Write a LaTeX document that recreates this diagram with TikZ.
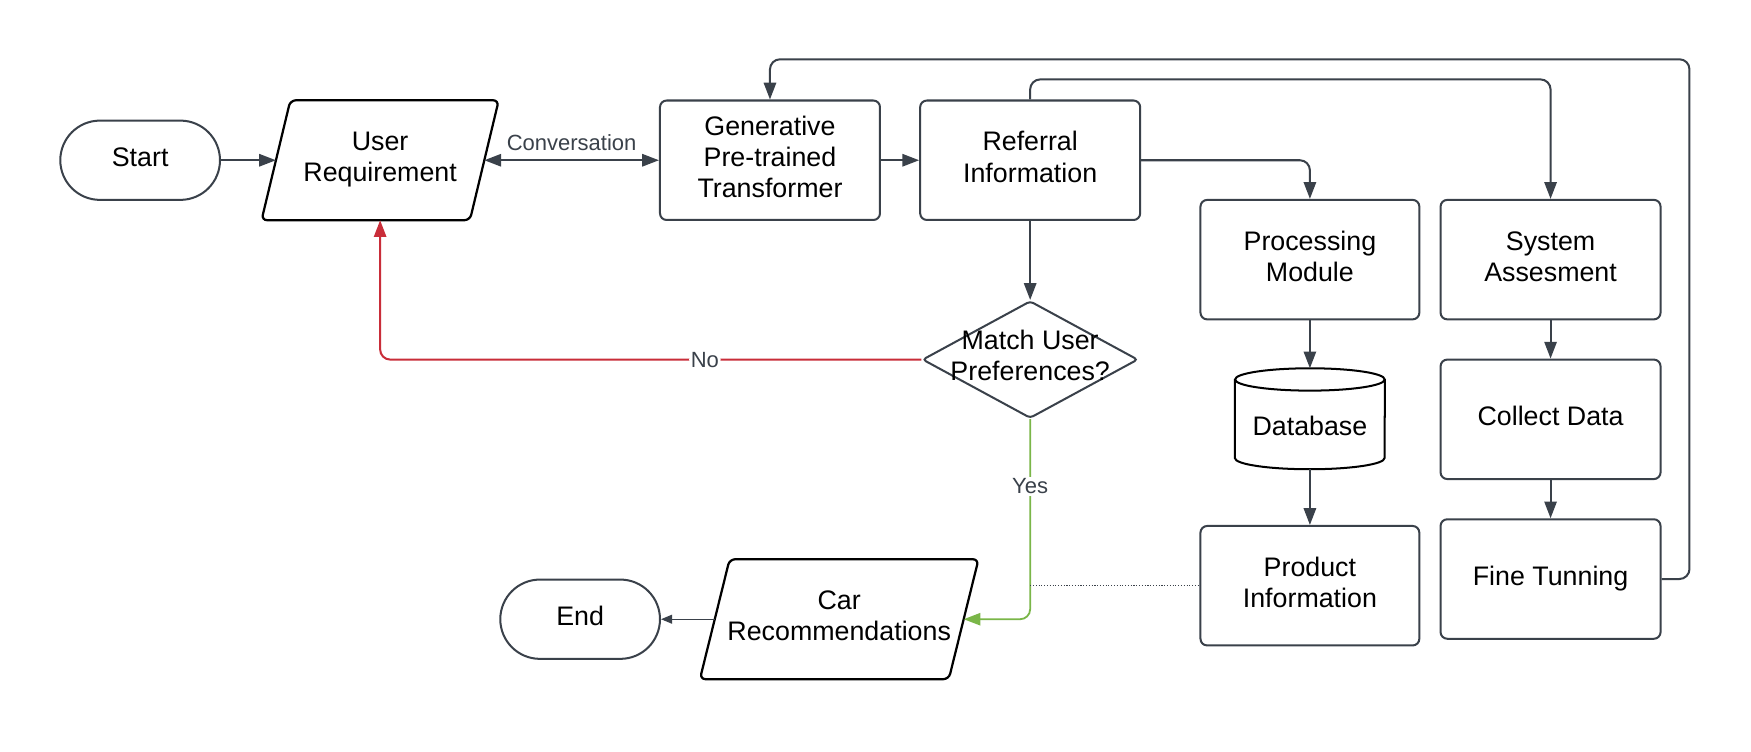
\documentclass[tikz,border=0pt]{standalone}
\usepackage{fontspec}
\setmainfont{Liberation Sans}
\usetikzlibrary{arrows.meta,shapes.geometric,calc}
\definecolor{lc}{HTML}{3A414A}
\definecolor{lred}{HTML}{C92D39}
\definecolor{lgreen}{HTML}{7AB648}
\tikzset{ltip/.tip={Triangle[length=15pt,width=11pt]}, stip/.tip={Triangle[length=10pt,width=8pt]}}
\begin{document}
\begin{tikzpicture}[x=1pt,y=1pt,
  txt/.style={font=\fontsize{24}{28}\selectfont, align=center, text=black},
  box/.style={txt, text depth=6pt, draw=lc, line width=1.8pt, rounded corners=6pt, minimum width=197pt, minimum height=107pt, inner sep=2pt},
  term/.style={txt, text depth=6pt, draw=lc, line width=1.8pt, rounded corners=35.5pt, minimum width=143pt, minimum height=71pt},
  io/.style={txt, text depth=6pt, minimum height=107pt, inner sep=1pt},
  iol/.style={draw=black, line width=2pt, rounded corners=5pt},
  conn/.style={draw=lc, line width=1.8pt, -ltip, rounded corners=9pt},
  lbl/.style={font=\fontsize{19.7}{23}\selectfont, text=lc, fill=white, inner sep=1.5pt},
  dbline/.style={draw=black, line width=1.8pt}
]
\useasboundingbox (0,0) rectangle (1568,-673.4);
\fill[white] (0,0) rectangle (1568,-673.4);

\node[term] (start) at (125.5,-143.5) {Start};
\node[io, minimum width=186.2pt] (ur) at (340.4,-143.5) {User\\Requirement};
\draw[iol] ([xshift=12.9pt]ur.north west) -- ([xshift=12.9pt]ur.north east) -- ([xshift=-12.9pt]ur.south east) -- ([xshift=-12.9pt]ur.south west) -- cycle;
\node[box] (gpt) at (689.5,-143.5) {Generative\\Pre-trained\\Transformer};
\node[box] (ref) at (922.5,-143.5) {Referral\\Information};
\node[box, minimum width=196pt] (proc) at (1173,-232.5) {Processing\\Module};
\node[box] (sys) at (1388.5,-232.5) {System\\Assesment};
\node[box] (coll) at (1388.5,-375.5) {Collect Data};
\node[box] (fine) at (1388.5,-518.5) {Fine Tunning};
\node[box, minimum width=196pt] (prod) at (1173,-524.5) {Product\\Information};
\node[minimum width=134pt, minimum height=90pt, inner sep=0] (db) at (1173,-375) {};
\draw[dbline] ([yshift=-10pt]db.north west) -- ([yshift=10pt]db.south west) arc[start angle=180,end angle=360,x radius=67pt,y radius=10pt] -- ([yshift=-10pt]db.north east);
\draw[dbline] ([yshift=-10pt]db.north) ellipse[x radius=67pt, y radius=10pt];
\node[txt] (dbt) at (1173,-381) {Database};
\node[diamond, draw=lc, line width=1.8pt, minimum width=193pt, minimum height=105pt, inner sep=0, rounded corners=3pt] (dia) at (922.5,-322) {};
\node[txt] (diat) at (922.5,-318.5) {Match User\\Preferences?};
\node[io, minimum width=222.5pt] (car) at (751.5,-554.5) {Car\\Recommendations};
\draw[iol] ([xshift=13.3pt]car.north west) -- ([xshift=13.3pt]car.north east) -- ([xshift=-13.3pt]car.south east) -- ([xshift=-13.3pt]car.south west) -- cycle;
\node[term] (end) at (519.5,-554.5) {End};

\draw[conn] (start) -- (ur);
\draw[conn, ltip-ltip] (ur) -- (gpt) node[lbl, midway, above=6pt]{Conversation};
\draw[conn] (gpt) -- (ref);
\draw[conn] (ref.east) -| (proc.north);
\draw[conn] (ref.north) -- ([yshift=18pt]ref.north) -| (sys.north);
\draw[conn] (fine.east) -- ([xshift=25pt]fine.east) |- ([yshift=36pt]gpt.north) -- (gpt.north);
\draw[conn] (ref) -- (dia);
\draw[conn] (proc) -- (db);
\draw[conn] (db) -- (prod);
\draw[conn] (sys) -- (coll);
\draw[conn] (coll) -- (fine);
\draw[conn, draw=lred] (dia.west) -| (ur) node[lbl, pos=0.2]{No};
\draw[conn, draw=lgreen, line width=1.6pt] (dia.south) |- (car) node[lbl, pos=0.168]{Yes};
\draw[draw=lc, line width=1pt, -stip] (car) -- (end);
\coordinate (dj) at (dia.south |- prod.west);
\draw[lc, line width=1pt, dash pattern=on 1pt off 1.5pt] (dj) -- (prod.west);
\end{tikzpicture}
\end{document}
